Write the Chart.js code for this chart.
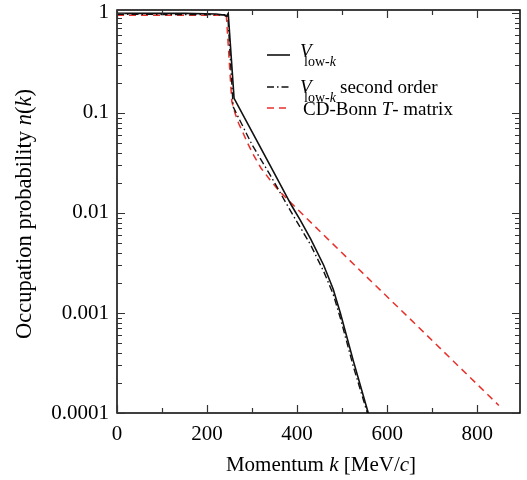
<!DOCTYPE html>
<html>
<head>
<meta charset="utf-8">
<script src="https://cdn.jsdelivr.net/npm/chart.js@4"></script>
<style>
  html, body { margin: 0; padding: 0; background: #fff; }
  #c { display: block; }
</style>
</head>
<body>
<canvas id="c" width="527" height="480"></canvas>
<script>
// ---- data ----
const kLowK = [0, 150, 220, 238, 243, 247, 260, 300, 340, 388, 407, 430, 459, 480, 496, 525, 558];
const nLowK = [0.99, 0.99, 0.975, 0.955, 0.93, 0.99, 0.14, 0.0646, 0.0299, 0.0118, 0.0085, 0.0055, 0.0030, 0.00174, 0.0010, 0.00033, 0.0001];

const kSecond = [0, 240, 246, 258, 300, 340, 388, 430, 459, 480, 496, 525, 556];
const nSecond = [0.97, 0.96, 0.96, 0.115, 0.048, 0.024, 0.0100, 0.0048, 0.0026, 0.00155, 0.00089, 0.00029, 0.0001];

const kBonn = [0, 236, 243, 255, 262, 270, 280, 290, 303, 320, 340, 360, 382, 450, 550, 650, 750, 848];
const nBonn = [0.95, 0.95, 0.92, 0.13, 0.10, 0.079, 0.063, 0.050, 0.038, 0.028, 0.0214, 0.0166, 0.0132, 0.0066, 0.0024, 0.00088, 0.00032, 0.000119];

const xTickValues = [0, 200, 400, 600, 800];
const xMinorValues = [0, 100, 200, 300, 400, 500, 600, 700, 800];
const yTickValues = [0.0001, 0.001, 0.01, 0.1, 1];
const yTickLabels = ['0.0001', '0.001', '0.01', '0.1', '1'];

const legendNames = ['V low-k', 'V low-k second order', 'CD-Bonn T- matrix'];

const pts = (ks, ns) => ks.map((k, i) => ({ x: k, y: ns[i] }));

const SERIF = '"Liberation Serif", "Times New Roman", serif';
const RED = '#e8312b';

function drawRuns(ctx, x, y, runs) {
  let cx = x;
  for (const r of runs) {
    ctx.font = r.font;
    ctx.fillText(r.t, cx, y + (r.dy || 0));
    cx += ctx.measureText(r.t).width + (r.gap || 0);
  }
  return cx;
}
function runsWidth(ctx, runs) {
  let w = 0;
  for (const r of runs) { ctx.font = r.font; w += ctx.measureText(r.t).width + (r.gap || 0); }
  return w;
}

const decor = {
  id: 'decor',
  afterDatasetsDraw(chart) {
    const ctx = chart.ctx;
    const a = chart.chartArea;
    const xs = chart.scales.x, ys = chart.scales.y;
    ctx.save();
    ctx.strokeStyle = '#000';
    ctx.lineWidth = 1.5;
    ctx.setLineDash([]);
    ctx.strokeRect(a.left, a.top, a.right - a.left, a.bottom - a.top);
    ctx.lineWidth = 1.2;
    ctx.strokeStyle = '#333';
    // x ticks (bottom + top)
    for (const v of xMinorValues) {
      const px = Math.round(xs.getPixelForValue(v)) + 0.5;
      const len = (v % 200 === 0) ? 8 : 5;
      ctx.beginPath();
      ctx.moveTo(px, a.bottom); ctx.lineTo(px, a.bottom - len);
      ctx.moveTo(px, a.top); ctx.lineTo(px, a.top + len);
      ctx.stroke();
    }
    // y ticks (left + right)
    for (let d = -4; d <= 0; d++) {
      for (let m = 1; m <= 9; m++) {
        const v = m * Math.pow(10, d);
        if (v < ys.min || v > ys.max) continue;
        const py = Math.round(ys.getPixelForValue(v)) + 0.5;
        const len = (m === 1) ? 8 : 5;
        ctx.beginPath();
        ctx.moveTo(a.left, py); ctx.lineTo(a.left + len, py);
        ctx.moveTo(a.right, py); ctx.lineTo(a.right - len, py);
        ctx.stroke();
      }
    }
    // axis titles
    ctx.fillStyle = '#000';
    ctx.textBaseline = 'alphabetic';
    ctx.textAlign = 'left';
    const R21 = '21px ' + SERIF, I21 = 'italic 21px ' + SERIF;
    const xRuns = [{ t: 'Momentum ', font: R21 }, { t: 'k', font: I21 }, { t: ' [MeV/', font: R21 }, { t: 'c', font: I21 }, { t: ']', font: R21 }];
    const xw = runsWidth(ctx, xRuns);
    drawRuns(ctx, 321 - xw / 2, 471, xRuns);
    const R22 = '22.5px ' + SERIF, I22 = 'italic 22.5px ' + SERIF;
    const yRuns = [{ t: 'Occupation probability ', font: R22 }, { t: 'n', font: I22 }, { t: '(', font: R22 }, { t: 'k', font: I22 }, { t: ')', font: R22 }];
    const yw = runsWidth(ctx, yRuns);
    ctx.save();
    ctx.translate(31, 214);
    ctx.rotate(-Math.PI / 2);
    drawRuns(ctx, -yw / 2, 0, yRuns);
    ctx.restore();

    // legend
    const R19 = '19px ' + SERIF, I19 = 'italic 19px ' + SERIF;
    const R14 = '14px ' + SERIF, I14 = 'italic 14px ' + SERIF;
    const sx0 = 267, sx1 = 290, tx = 300;
    const rows = [
      { y: 55, ds: chart.data.datasets[0] },
      { y: 87, ds: chart.data.datasets[1] },
      { y: 108, ds: chart.data.datasets[2] }
    ];
    for (const r of rows) {
      ctx.save();
      ctx.strokeStyle = r.ds.borderColor;
      ctx.lineWidth = r.ds.borderWidth;
      ctx.setLineDash(r.ds.borderDash || []);
      ctx.beginPath();
      ctx.moveTo(sx0, r.y); ctx.lineTo(sx1, r.y);
      ctx.stroke();
      ctx.restore();
    }
    // entry 1: V_low-k
    drawRuns(ctx, tx, 57, [{ t: 'V', font: I19 }]);
    drawRuns(ctx, tx + 4, 66, [{ t: 'low-', font: R14 }, { t: 'k', font: I14 }]);
    // entry 2: V_low-k second order
    drawRuns(ctx, tx, 93, [{ t: 'V', font: I19 }]);
    drawRuns(ctx, tx + 4, 102, [{ t: 'low-', font: R14 }, { t: 'k', font: I14 }]);
    drawRuns(ctx, 340, 93, [{ t: 'second order', font: R19 }]);
    // entry 3
    drawRuns(ctx, 303, 115, [{ t: 'CD-Bonn ', font: R19 }, { t: 'T', font: I19 }, { t: '- matrix', font: R19 }]);
    ctx.restore();
  }
};

new Chart(document.getElementById('c'), {
  type: 'line',
  data: {
    datasets: [
      { label: legendNames[0], data: pts(kLowK, nLowK), borderColor: '#111', borderWidth: 1.6, pointRadius: 0, tension: 0, fill: false },
      { label: legendNames[1], data: pts(kSecond, nSecond), borderColor: '#111', borderWidth: 1.4, borderDash: [7, 3, 1.5, 3], pointRadius: 0, tension: 0, fill: false },
      { label: legendNames[2], data: pts(kBonn, nBonn), borderColor: RED, borderWidth: 1.5, borderDash: [7, 5], pointRadius: 0, tension: 0, fill: false }
    ]
  },
  options: {
    responsive: false,
    animation: false,
    devicePixelRatio: 1,
    layout: { padding: { top: 10, right: 7, bottom: 0, left: 0 } },
    plugins: { legend: { display: false }, tooltip: { enabled: false }, title: { display: false } },
    scales: {
      x: {
        type: 'linear', min: 0, max: 895,
        grid: { display: false, drawTicks: false }, border: { display: false },
        afterFit: (s) => { s.height = 67; s.paddingLeft = 0; s.paddingRight = 0; },
        afterBuildTicks: (s) => { s.ticks = xTickValues.map(v => ({ value: v })); },
        ticks: { autoSkip: false, maxRotation: 0, padding: 9, color: '#000', font: { family: SERIF, size: 21 }, callback: (v) => String(v) }
      },
      y: {
        type: 'logarithmic', min: 0.0001, max: 1.07,
        grid: { display: false, drawTicks: false }, border: { display: false },
        afterFit: (s) => { s.width = 117; s.paddingTop = 0; s.paddingBottom = 0; },
        afterBuildTicks: (s) => { s.ticks = yTickValues.map(v => ({ value: v })); },
        ticks: { autoSkip: false, padding: 8, color: '#000', font: { family: SERIF, size: 21 },
          callback: (v) => { const i = yTickValues.findIndex(t => Math.abs(Math.log10(t) - Math.log10(v)) < 1e-6); return i >= 0 ? yTickLabels[i] : ''; } }
      }
    }
  },
  plugins: [decor]
});
</script>
</body>
</html>
